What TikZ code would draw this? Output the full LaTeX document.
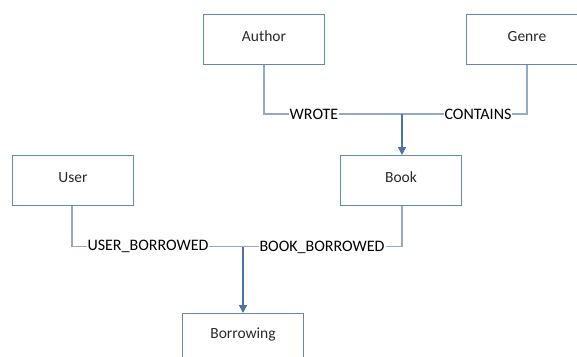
\documentclass[tikz,border=0pt]{standalone}
\usepackage{fontspec}
\setmainfont{Carlito}
\usetikzlibrary{arrows.meta}
\definecolor{boxc}{RGB}{100,135,180}
\definecolor{linec}{RGB}{145,170,200}
\definecolor{arrc}{RGB}{75,115,165}
\definecolor{txt}{RGB}{40,40,40}
\begin{document}
\begin{tikzpicture}[x=1pt,y=-1pt,
  entity/.style={draw=boxc,line width=1pt,minimum width=121pt,minimum height=50pt,anchor=north west,inner sep=0pt},
  etext/.style={text=txt,font=\fontsize{15.5}{17}\selectfont,inner sep=0pt},
  conn/.style={draw=linec,line width=1.2pt},
  arr/.style={draw=arrc,line width=1.5pt,-{Triangle[length=8pt,width=8pt]}},
  lab/.style={fill=white,inner sep=1pt,text=black,font=\fontsize{16}{18}\selectfont}]
\useasboundingbox (0,0) rectangle (577,356);
\begin{scope}
\clip (0,0) rectangle (577,356);
\node[entity] (author) at (203,14) {};
\node[entity] (genre) at (466,14) {};
\node[entity] (book) at (340,155) {};
\node[entity] (user) at (12,155) {};
\node[entity] (borrow) at (182,313) {};
\node[etext] (tauthor) at ([yshift=3pt]author.center) {Author};
\node[etext] (tgenre) at ([yshift=3pt]genre.center) {Genre};
\node[etext] (tbook) at ([yshift=3pt]book.center) {Book};
\node[etext] (tuser) at ([yshift=3pt]user.center) {User};
\node[etext] (tborrow) at (243,334) {Borrowing};
\coordinate (j1) at (402,114);
\coordinate (j2) at (243,246.5);
\draw[conn] (author.south) |- (j1);
\draw[conn] (genre.south-|527,0) |- (j1);
\draw[arr] (j1) -- (book.north-|j1);
\draw[conn] (user.south-|72,0) |- (j2);
\draw[conn] (book.south-|j1) |- (j2);
\draw[arr] (j2) -- (borrow.north-|j2);
\node[lab] (wrote) at (314,114) {WROTE};
\node[lab] (contains) at (478,114) {CONTAINS};
\node[lab] (ub) at (148,246) {USER\_BORROWED};
\node[lab] (bb) at (322,247) {BOOK\_BORROWED};
\end{scope}
\end{tikzpicture}
\end{document}
